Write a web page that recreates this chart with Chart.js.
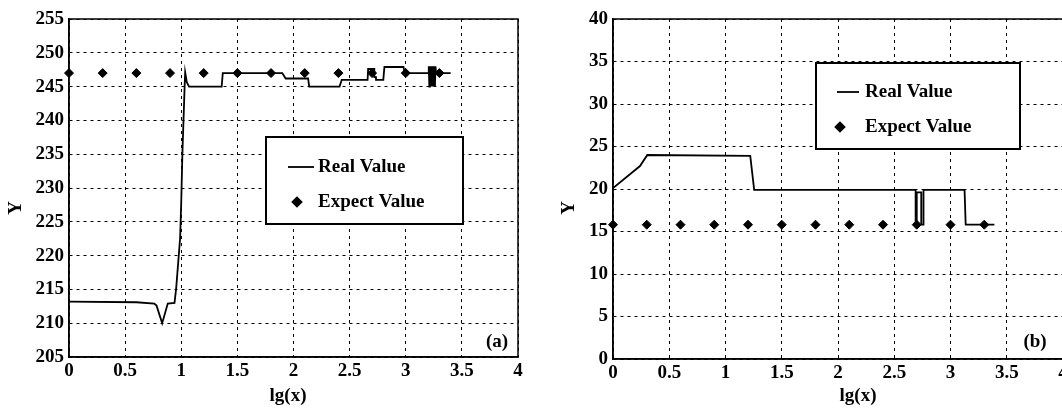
<!DOCTYPE html>
<html>
<head>
<meta charset="utf-8">
<script src="https://cdn.jsdelivr.net/npm/chart.js@4/dist/chart.umd.min.js"></script>
<style>
html, body { margin: 0; padding: 0; background: #fff; overflow: hidden; width: 1062px; height: 409px; }
canvas { position: absolute; top: 0; }
#chartA { left: 0; }
#chartB { left: 531px; }
</style>
</head>
<body>
<canvas id="chartA" width="531" height="409"></canvas>
<canvas id="chartB" width="545" height="409"></canvas>
<script>
// ───────── 데이터 ─────────

// 공통 x축 눈금 lg(x)
const xTickValues = [0, 0.5, 1, 1.5, 2, 2.5, 3, 3.5, 4];

// (a) 실제값
const realXA = [0, 0.6, 0.76, 0.78, 0.83, 0.88, 0.94, 0.955, 0.99, 1.0, 1.01, 1.02, 1.03, 1.035, 1.05, 1.07,
    1.36, 1.37, 1.90, 1.93, 2.13, 2.14, 2.41, 2.43, 2.66, 2.665, 2.72, 2.72, 2.735, 2.735, 2.80, 2.81, 2.98, 2.99,
    3.20, 3.205, 3.21, 3.215, 3.22, 3.225, 3.23, 3.235, 3.24, 3.245, 3.25, 3.255, 3.26, 3.265, 3.27, 3.40];
const realYA = [213.2, 213.1, 212.9, 212.6, 210, 212.9, 213, 215.2, 222.6, 228, 235, 240, 245, 247.1, 245.6, 245,
    245, 247, 247, 246.2, 246.2, 245, 245, 246, 246, 247.6, 247.6, 246.4, 246.4, 246, 246, 247.9, 247.9, 247,
    247, 248, 245, 248, 245, 248, 245, 248, 245, 248, 245, 248, 245, 248, 247, 247];
// (a) 기대값
const expectXA = [0, 0.3, 0.6, 0.9, 1.2, 1.5, 1.8, 2.1, 2.4, 2.7, 3.0, 3.3];
const expectYA = [247, 247, 247, 247, 247, 247, 247, 247, 247, 247, 247, 247];
const yTickValuesA = [205, 210, 215, 220, 225, 230, 235, 240, 245, 250, 255];

// (b) 실제값
const realXB = [0, 0.24, 0.305, 1.22, 1.255, 2.69, 2.69, 2.70, 2.70, 2.74, 2.74, 2.76, 2.76, 3.125, 3.135, 3.39];
const realYB = [20.1, 22.7, 24, 23.9, 19.9, 19.9, 15.8, 15.8, 19.6, 19.6, 15.8, 15.8, 19.9, 19.9, 15.8, 15.8];
// (b) 기대값
const expectXB = [0, 0.3, 0.6, 0.9, 1.2, 1.5, 1.8, 2.1, 2.4, 2.7, 3.0, 3.3];
const expectYB = [15.8, 15.8, 15.8, 15.8, 15.8, 15.8, 15.8, 15.8, 15.8, 15.8, 15.8, 15.8];
const yTickValuesB = [0, 5, 10, 15, 20, 25, 30, 35, 40];

const FONT = "'Liberation Serif', 'DejaVu Serif', serif";

const toPoints = (xs, ys) => xs.map((x, i) => ({ x: x, y: ys[i] }));

// 테두리, 범례, 축 제목
const figurePlugin = {
    id: 'figure',
    afterDraw(chart, args, opts) {
        const ctx = chart.ctx;
        const a = chart.chartArea;
        ctx.save();
        ctx.strokeStyle = '#000';
        ctx.lineWidth = 1.5;
        ctx.strokeRect(a.left, a.top, a.right - a.left, a.bottom - a.top);

        // 범례 박스
        const L = opts.legend;
        ctx.fillStyle = '#fff';
        ctx.fillRect(L.x, L.y, L.w, L.h);
        ctx.lineWidth = 2;
        ctx.strokeRect(L.x, L.y, L.w, L.h);
        ctx.font = 'bold 19px ' + FONT;
        ctx.fillStyle = '#000';
        ctx.textBaseline = 'middle';
        ctx.textAlign = 'left';
        const dsLine = chart.data.datasets[0];
        const dsDot = chart.data.datasets[1];
        ctx.lineWidth = 1.8;
        ctx.beginPath();
        ctx.moveTo(L.x + L.lineFrom, L.y + L.row1);
        ctx.lineTo(L.x + L.lineTo, L.y + L.row1);
        ctx.stroke();
        ctx.fillText(dsLine.label, L.x + L.text, L.y + L.row1);
        Chart.helpers.drawPoint(ctx, { pointStyle: 'rectRot', radius: 4.5, borderWidth: 1 }, L.x + L.dot, L.y + L.row2);
        ctx.fill();
        ctx.fillText(dsDot.label, L.x + L.text, L.y + L.row2);

        // 글자들
        opts.texts.forEach(t => {
            ctx.save();
            ctx.translate(t.x, t.y);
            if (t.rot) ctx.rotate(t.rot);
            ctx.textAlign = 'center';
            ctx.textBaseline = 'middle';
            ctx.font = 'bold 19px ' + FONT;
            ctx.fillText(t.text, 0, 0);
            ctx.restore();
        });
        ctx.restore();
    }
};

function makeChart(id, real, expect, yTicks, yMin, yMax, axisW, axisH, fig) {
    const tickFont = { family: FONT, size: 19, weight: 'bold' };
    return new Chart(document.getElementById(id), {
        type: 'scatter',
        data: {
            datasets: [
                { label: 'Real Value', data: real, showLine: true, borderColor: '#000', borderWidth: 1.8,
                  pointRadius: 0, tension: 0, fill: false },
                { label: 'Expect Value', data: expect, showLine: false, pointStyle: 'rectRot', pointRadius: 4.5,
                  pointBackgroundColor: '#000', pointBorderColor: '#000', pointBorderWidth: 1, clip: false }
            ]
        },
        options: {
            responsive: false,
            animation: false,
            events: [],
            layout: { padding: { top: 19, right: 13, left: 0, bottom: 0 } },
            plugins: { legend: { display: false }, tooltip: { enabled: false }, figure: fig },
            scales: {
                x: {
                    type: 'linear', min: 0, max: 4,
                    afterBuildTicks: s => { s.ticks = xTickValues.map(v => ({ value: v })); },
                    afterFit: s => { s.height = axisH; },
                    ticks: { color: '#000', font: tickFont, padding: 3, maxRotation: 0, callback: v => String(v) },
                    grid: { color: '#000', lineWidth: 1, drawTicks: false },
                    border: { display: true, color: '#000', width: 1.5, dash: [3, 4] }
                },
                y: {
                    type: 'linear', min: yMin, max: yMax,
                    afterBuildTicks: s => { s.ticks = yTicks.map(v => ({ value: v })); },
                    afterFit: s => { s.width = axisW; },
                    ticks: { color: '#000', font: tickFont, padding: 5, callback: v => String(v) },
                    grid: { color: '#000', lineWidth: 1, drawTicks: false },
                    border: { display: true, color: '#000', width: 1.5, dash: [3, 4] }
                }
            }
        },
        plugins: [figurePlugin]
    });
}

document.addEventListener('DOMContentLoaded', () => {
    makeChart('chartA', toPoints(realXA, realYA), toPoints(expectXA, expectYA), yTickValuesA, 205, 255, 69, 52, {
        legend: { x: 266, y: 137, w: 197, h: 87, lineFrom: 22, lineTo: 48, text: 52, dot: 31, row1: 30, row2: 65 },
        texts: [
            { text: 'Y', x: 16, y: 208, rot: -Math.PI / 2 },
            { text: 'lg(x)', x: 288, y: 396 },
            { text: '(a)', x: 497, y: 342 }
        ]
    });
    makeChart('chartB', toPoints(realXB, realYB), toPoints(expectXB, expectYB), yTickValuesB, 0, 40, 82, 50, {
        legend: { x: 285, y: 63, w: 204, h: 86, lineFrom: 21, lineTo: 43, text: 49, dot: 24, row1: 29, row2: 64 },
        texts: [
            { text: 'Y', x: 38, y: 208, rot: -Math.PI / 2 },
            { text: 'lg(x)', x: 327, y: 396 },
            { text: '(b)', x: 504, y: 342 }
        ]
    });
});
</script>
</body>
</html>
